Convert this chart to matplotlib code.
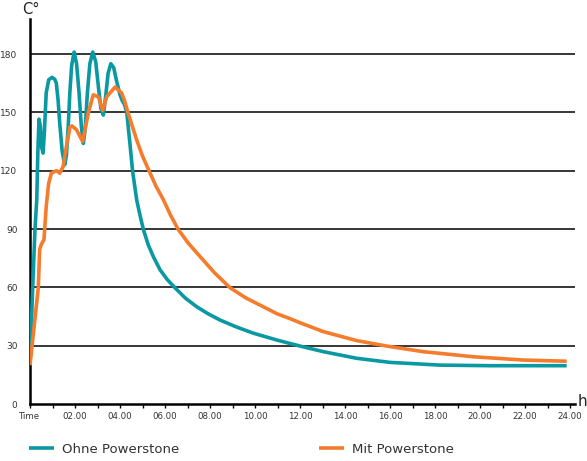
import numpy as np
import matplotlib.pyplot as plt
from matplotlib.ticker import MultipleLocator

############################### Datos ###############################
# Ohne Powerstone (teal)
t_ohne = [0, 0.12, 0.22, 0.30, 0.35, 0.40, 0.46, 0.52, 0.58, 0.64, 0.72, 0.83, 0.98,
          1.10, 1.17, 1.25, 1.32, 1.43, 1.54, 1.62, 1.70, 1.77, 1.85, 1.96, 2.07,
          2.18, 2.28, 2.37, 2.45, 2.55, 2.66, 2.79, 2.92, 3.05, 3.15, 3.26, 3.36,
          3.47, 3.59, 3.72, 3.85, 4.00, 4.10, 4.20, 4.30, 4.44, 4.56, 4.74, 4.89,
          5.04, 5.25, 5.48, 5.78, 6.10, 6.44, 6.90, 7.41, 7.90, 8.44, 9.20, 9.93,
          11.0, 12.0, 13.04, 14.52, 16.0, 18.22, 20.44, 23.85]
T_ohne = [20, 60, 89.5, 105, 130, 146.5, 143, 132, 129, 140, 160, 166.7, 168,
          167, 165, 156, 144.5, 130, 123, 128, 143, 160, 174, 181, 175,
          160, 143, 134, 141, 160, 175, 181, 176, 162, 152, 148.6, 158,
          170, 175, 173, 166, 159, 156, 154, 150, 134, 119.7, 105, 97,
          89.7, 82, 75.8, 69, 64, 59.8, 54.5, 50, 46.5, 43.2, 39.5, 36.4,
          32.8, 29.8, 26.9, 23.5, 21.4, 20, 19.7, 19.7]

# Mit Powerstone (naranja)
t_mit = [0, 0.37, 0.43, 0.50, 0.62, 0.72, 0.83, 0.95, 1.17, 1.32, 1.47, 1.61,
         1.78, 1.87, 2.07, 2.34, 2.59, 2.81, 3.04, 3.23, 3.41, 3.78, 4.07, 4.20,
         4.35, 4.74, 5.00, 5.30, 5.60, 5.93, 6.25, 6.59, 7.05, 7.56, 8.20, 8.89,
         9.60, 10.37, 11.0, 11.51, 12.0, 13.04, 14.52, 15.85, 17.48, 19.7,
         21.93, 23.85]
T_mit = [20, 60, 79.5, 82, 84.5, 101.5, 113.5, 118.7, 120, 118.7, 122, 132,
         142.6, 143, 141, 135, 149.5, 159, 158, 151, 158, 163, 160, 156,
         150, 135.8, 127.5, 119.7, 112, 105, 97, 89.7, 82.5, 75.8, 67.5, 59.8,
         54.5, 50, 46.3, 44.1, 41.8, 37.2, 32.6, 29.8, 26.9, 24.3,
         22.6, 22]

y_ticks  = [0, 30, 60, 90, 120, 150, 180]
x_ticks  = list(range(0, 25, 2))
x_labels = ['Time'] + ['%02d.00' % h for h in x_ticks[1:]]

TEAL   = '#0a99a3'
ORANGE = '#f47c2c'

############################### Gráfica ###############################
fig = plt.figure(figsize=(5.87, 4.61), dpi=100)
ax = fig.add_axes([30/587, 57/461, 545/587, 385/461])

ax.plot(t_ohne, T_ohne, color=TEAL, lw=2.6, solid_joinstyle='round',
        solid_capstyle='butt', label='Ohne Powerstone', zorder=3)
ax.plot(t_mit, T_mit, color=ORANGE, lw=2.6, solid_joinstyle='round',
        solid_capstyle='butt', label='Mit Powerstone', zorder=3)

ax.set_xlim(0, 24.22)
ax.set_ylim(0, 198)

for y in y_ticks[1:]:
    ax.axhline(y, color='black', lw=1.1, zorder=1)

for s in ['top', 'right']:
    ax.spines[s].set_visible(False)
ax.spines['left'].set_linewidth(1.8)
ax.spines['bottom'].set_linewidth(1.8)

ax.set_yticks(y_ticks)
ax.set_yticklabels([str(v) for v in y_ticks], fontsize=6.5, color='#333333')
ax.tick_params(axis='y', length=0, pad=9)

ax.set_xticks(x_ticks)
ax.set_xticklabels(x_labels, fontsize=6.2, color='#333333')
ax.xaxis.set_minor_locator(MultipleLocator(1))
ax.tick_params(axis='x', which='both', length=3, width=1, direction='out', pad=3)

fig.text(22/587, 1 - 10/461, 'C°', fontsize=10.5, color='#222222', va='center')
fig.text(578/587, 1 - 401/461, 'h', fontsize=11, color='#222222', va='center')

ax.legend(loc='center left', bbox_to_anchor=(17/587, 1 - 449/461),
          bbox_transform=fig.transFigure, ncol=2, frameon=False,
          fontsize=9.5, handlelength=1.9, handletextpad=0.6,
          columnspacing=10.6, labelcolor='#333333')

fig.savefig('out.png', dpi=100)
